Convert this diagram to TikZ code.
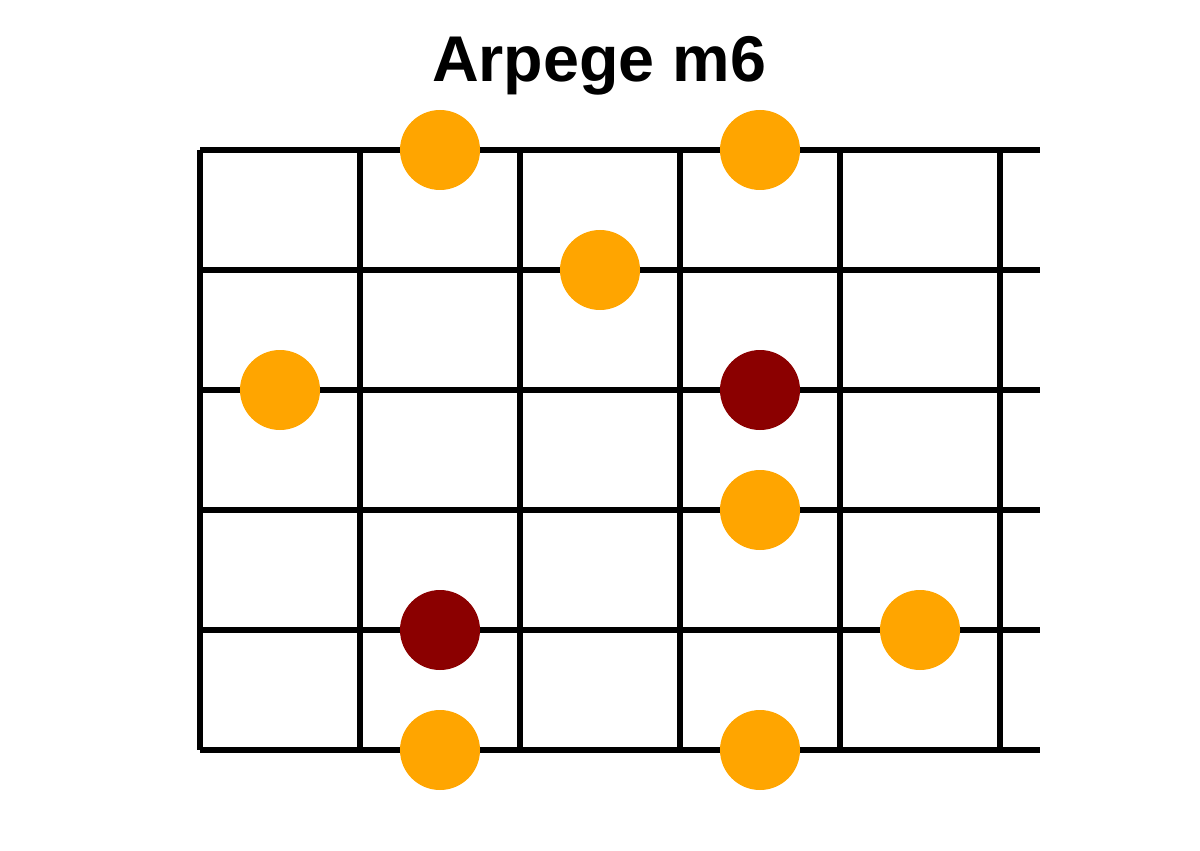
\documentclass[tikz,border=0pt]{standalone}
\usepackage{fontspec}
\setmainfont{Liberation Sans}
\usepackage{xcolor}
\usetikzlibrary{positioning}
\definecolor{notecol}{HTML}{FFA500}
\definecolor{rootcol}{HTML}{8B0000}
\tikzset{
    fretline/.style={line width=0.13cm, black},
    note/.style={circle, fill=notecol, minimum size=2cm, inner sep=0pt},
    rootnote/.style={note, fill=rootcol}
}

\begin{document}
\begin{tikzpicture}
    % Canvas (1200x850 px, 40 px per cm)
    \useasboundingbox (-5,3.75) rectangle (25,-17.5);
    % Strings
    \foreach \j in {0,...,5} {
        \draw[fretline] (0,-3*\j) -- (21,-3*\j);
    }
    % Frets
    \foreach \i in {0,...,5} {
        \draw[fretline] (4*\i,0) -- (4*\i,-15);
    }
    % Notes of the arpeggio
    \node[note] (n1) at (6,0) {};   \node[note] (n2) at (14,0) {};
    \node[note] (n3) at (10,-3) {};
    \node[note] (n4) at (2,-6) {};  \node[rootnote] (r1) at (14,-6) {};
    \node[note] (n5) at (14,-9) {};
    \node[rootnote] (r2) at (6,-12) {}; \node[note] (n6) at (18,-12) {};
    \node[note] (n7) at (6,-15) {}; \node[note] (n8) at (14,-15) {};
    % Title
    \node[font=\bfseries\fontsize{46}{50}\selectfont, anchor=base] (title) at (9.98,1.7) {Arpege m6};
\end{tikzpicture}
\end{document}
